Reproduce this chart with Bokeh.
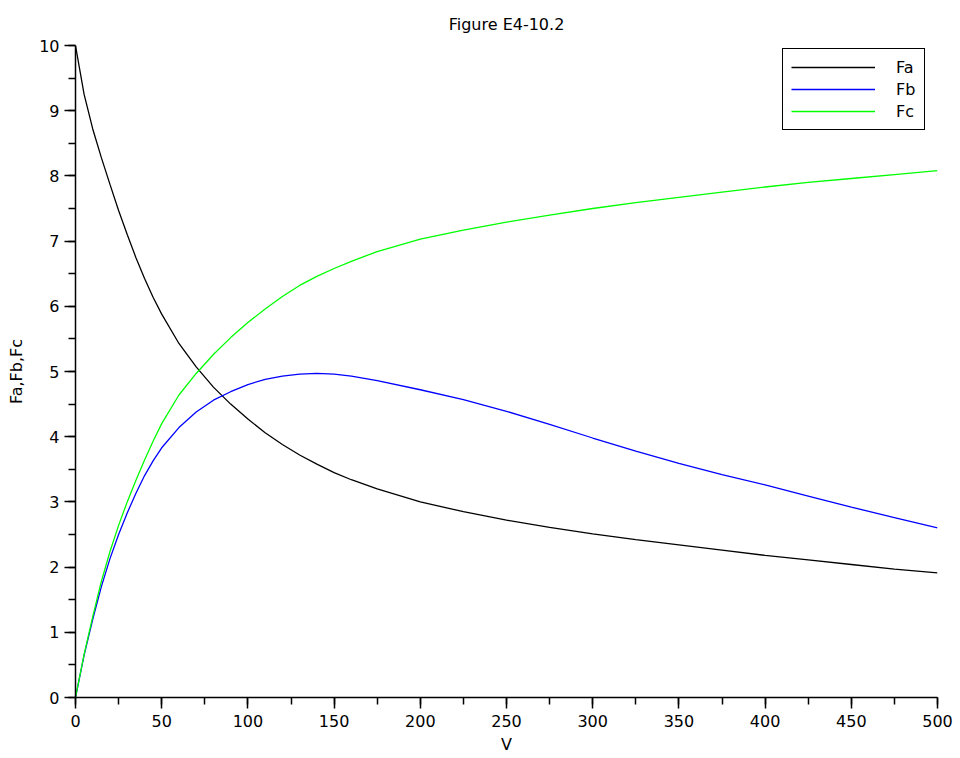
from bokeh.plotting import figure
from bokeh.models import Range1d, SingleIntervalTicker, Legend, LegendItem
from bokeh.embed import file_html
from bokeh.resources import INLINE

# Data
V = [0, 5, 10, 15, 20, 25, 30, 35, 40, 45, 50, 60, 70, 80, 90, 100, 110, 120, 130, 140,
     150, 160, 175, 200, 225, 250, 275, 300, 325, 350, 375, 400, 425, 450, 475, 500]
Fa = [10.0, 9.25, 8.72, 8.28, 7.87, 7.47, 7.10, 6.75, 6.43, 6.14, 5.88, 5.43, 5.07,
      4.76, 4.50, 4.27, 4.06, 3.88, 3.72, 3.58, 3.45, 3.34, 3.20, 3.00, 2.85, 2.72,
      2.61, 2.51, 2.42, 2.34, 2.26, 2.18, 2.11, 2.04, 1.97, 1.91]
Fb = [0.0, 0.65, 1.20, 1.70, 2.13, 2.50, 2.83, 3.13, 3.40, 3.63, 3.83, 4.14, 4.38,
      4.56, 4.69, 4.80, 4.88, 4.93, 4.96, 4.97, 4.96, 4.93, 4.86, 4.72, 4.57, 4.39,
      4.19, 3.98, 3.78, 3.59, 3.42, 3.26, 3.09, 2.92, 2.76, 2.60]
Fc = [0.0, 0.66, 1.24, 1.78, 2.24, 2.64, 3.00, 3.33, 3.64, 3.93, 4.20, 4.64, 4.97,
      5.26, 5.52, 5.75, 5.96, 6.15, 6.32, 6.46, 6.58, 6.69, 6.84, 7.03, 7.17, 7.29,
      7.40, 7.50, 7.59, 7.67, 7.75, 7.83, 7.90, 7.96, 8.02, 8.08]
series_names = ["Fa", "Fb", "Fc"]
series_colors = ["#000000", "#0000ff", "#00ff00"]

FONT = "DejaVu Sans"

p = figure(width=960, height=758, output_backend="svg", toolbar_location=None,
           x_range=Range1d(0, 500), y_range=Range1d(0, 10),
           min_border_left=75, min_border_right=23, min_border_top=44,
           min_border_bottom=61, background_fill_color="white",
           border_fill_color="white")
p.outline_line_color = None
p.grid.visible = False

p.title.text = "Figure E4-10.2"
p.title.align = "center"
p.title.text_font = FONT
p.title.text_font_size = "16px"
p.title.text_font_style = "normal"
p.title.text_color = "#000000"
p.title.standoff = 24

for ax in (p.xaxis[0], p.yaxis[0]):
    ax.axis_line_width = 1.5
    ax.major_tick_line_width = 1.5
    ax.minor_tick_line_width = 1.5
    ax.major_tick_in = 0
    ax.minor_tick_in = 0
    ax.major_tick_out = 11
    ax.minor_tick_out = 7
    ax.major_label_text_font = FONT
    ax.major_label_text_font_size = "16px"
    ax.major_label_text_color = "#000000"
    ax.axis_label_text_font = FONT
    ax.axis_label_text_font_size = "16px"
    ax.axis_label_text_font_style = "normal"
    ax.axis_label_text_color = "#000000"
    ax.axis_line_color = "#000000"
    ax.major_tick_line_color = "#000000"
    ax.minor_tick_line_color = "#000000"

p.xaxis[0].ticker = SingleIntervalTicker(interval=50, num_minor_ticks=2)
p.yaxis[0].ticker = SingleIntervalTicker(interval=1, num_minor_ticks=2)
p.xaxis[0].axis_label = "V"
p.yaxis[0].axis_label = "Fa,Fb,Fc"
p.xaxis[0].major_label_standoff = 6
p.yaxis[0].major_label_standoff = 5
p.xaxis[0].axis_label_standoff = 5
p.yaxis[0].axis_label_standoff = 10

renderers = []
for name, ys, col in zip(series_names, [Fa, Fb, Fc], series_colors):
    r = p.line(V, ys, line_color=col, line_width=1.3)
    renderers.append(r)

legend = Legend(items=[LegendItem(label=n, renderers=[r]) for n, r in zip(series_names, renderers)],
                location=(707, 567), glyph_width=84, glyph_height=20, label_height=20,
                label_standoff=21, spacing=2, padding=8,
                border_line_color="#000000", border_line_width=1.5, border_line_alpha=1.0,
                label_text_font=FONT, label_text_font_size="16px", label_text_color="#000000",
                background_fill_alpha=1.0)
p.add_layout(legend, "center")

open("out.html", "w").write(file_html(p, INLINE))
